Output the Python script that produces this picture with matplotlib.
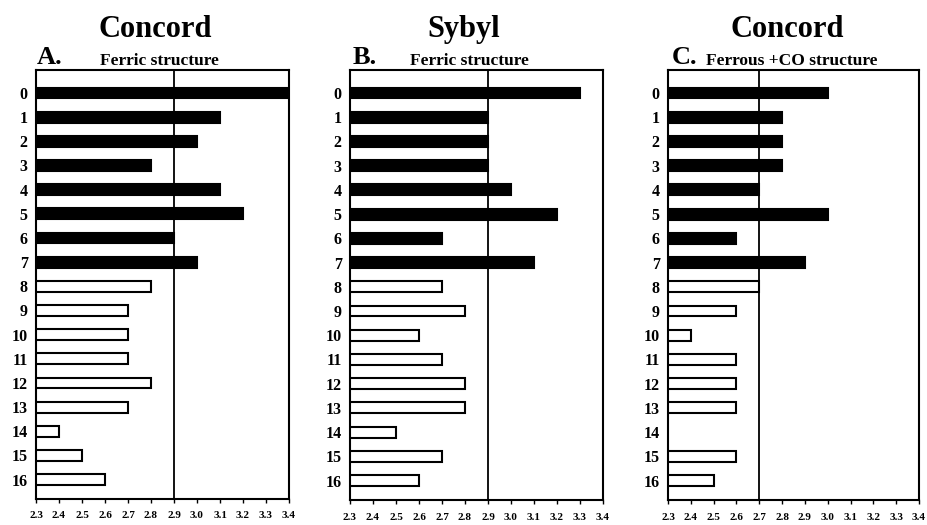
import numpy as np
import matplotlib
matplotlib.use("Agg")
import matplotlib.pyplot as plt

positions = list(range(17))
position_labels = [str(p) for p in positions]
filled_count = 8  # rows 0-7 drawn solid, 8-16 open

concord_ferric = [3.4, 3.1, 3.0, 2.8, 3.1, 3.2, 2.9, 3.0,
                  2.8, 2.7, 2.7, 2.7, 2.8, 2.7, 2.4, 2.5, 2.6]
sybyl_ferric = [3.3, 2.9, 2.9, 2.9, 3.0, 3.2, 2.7, 3.1,
                2.7, 2.8, 2.6, 2.7, 2.8, 2.8, 2.5, 2.7, 2.6]
concord_ferrous_co = [3.0, 2.8, 2.8, 2.8, 2.7, 3.0, 2.6, 2.9,
                      2.7, 2.6, 2.4, 2.6, 2.6, 2.6, np.nan, 2.6, 2.5]

ref_lines = [2.9, 2.9, 2.7]
x_ticks = [2.3, 2.4, 2.5, 2.6, 2.7, 2.8, 2.9, 3.0, 3.1, 3.2, 3.3, 3.4]
x_tick_labels = ["2.3", "2.4", "2.5", "2.6", "2.7", "2.8", "2.9", "3.0",
                 "3.1", "3.2", "3.3", "3.4"]
x_min = 2.3

methods = ["Concord", "Sybyl", "Concord"]
letters = ["A.", "B.", "C."]
subtitles = ["Ferric structure", "Ferric structure", "Ferrous +CO structure"]
series = [concord_ferric, sybyl_ferric, concord_ferrous_co]

W, H = 927, 525
fig = plt.figure(figsize=(W / 100, H / 100), dpi=100)
serif = ["Liberation Serif", "DejaVu Serif"]

# axes placement in pixels: (left, right, top, bottom)
boxes = [(36, 289, 70, 499), (350, 603, 70, 500), (668, 919, 70, 500)]
method_x = [155, 464, 787]
letter_x = [37, 353, 672]
sub_x = [100, 410, 706]

for i in range(3):
    l, r, t, b = boxes[i]
    ax = fig.add_axes([l / W, 1 - b / H, (r - l) / W, (b - t) / H])
    vals = np.array(series[i], dtype=float)
    widths = vals - x_min
    face = ["black" if p < filled_count else "white" for p in positions]
    mask = ~np.isnan(vals)
    ax.barh(np.array(positions)[mask], widths[mask], left=x_min, height=0.45,
            color=np.array(face)[mask], edgecolor="black", linewidth=1.5, zorder=3)
    ax.axvline(ref_lines[i], color="black", linewidth=1.3, zorder=2)
    ax.set_xlim(2.3, 3.4)
    ax.set_ylim(16.8, -0.95)
    ax.set_yticks(positions)
    ax.set_yticklabels(position_labels, fontfamily=serif, fontweight="bold", fontsize=11.5)
    ax.set_xticks(x_ticks)
    ax.set_xticklabels(x_tick_labels, fontfamily=serif, fontweight="bold", fontsize=8)
    ax.tick_params(axis="y", length=0, pad=6)
    ax.tick_params(axis="x", length=3, width=1, pad=6, direction="out")
    for s in ax.spines.values():
        s.set_linewidth(1.5)

    fig.text(method_x[i] / W, 1 - 37 / H, methods[i], ha="center", va="baseline",
             fontfamily=serif, fontweight="bold", fontsize=22)
    fig.text(letter_x[i] / W, 1 - 64 / H, letters[i], ha="left", va="baseline",
             fontfamily=serif, fontweight="bold", fontsize=19)
    fig.text(sub_x[i] / W, 1 - 65 / H, subtitles[i], ha="left", va="baseline",
             fontfamily=serif, fontweight="bold", fontsize=12.5)

fig.savefig("out.png", dpi=100)
